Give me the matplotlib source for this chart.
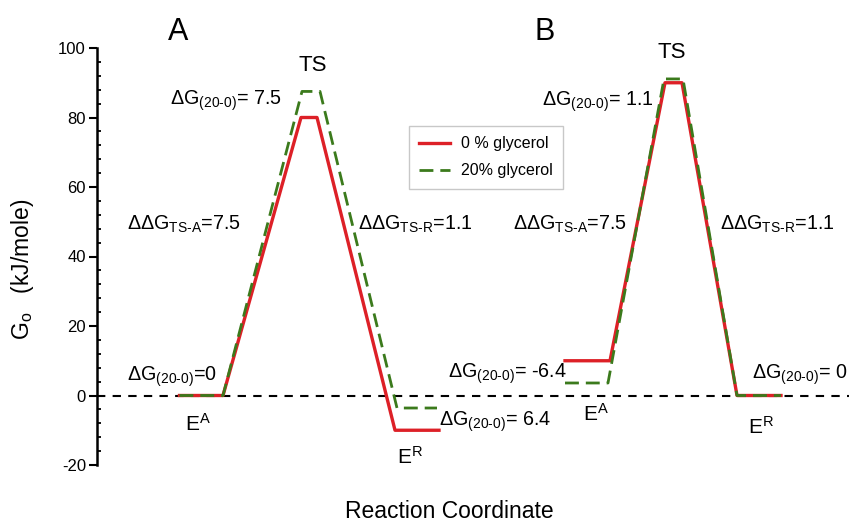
# Free energy profile: 0 % vs 20 % glycerol
import matplotlib
matplotlib.use('Agg')
import matplotlib.pyplot as plt

plt.rcParams['font.family'] = ['Liberation Sans', 'DejaVu Sans']
plt.rcParams['mathtext.fontset'] = 'custom'
plt.rcParams['mathtext.rm'] = 'Liberation Sans'
plt.rcParams['mathtext.it'] = 'Liberation Sans:italic'
plt.rcParams['axes.unicode_minus'] = False

# reaction coordinate (arbitrary units) and G values (kJ/mole)
x_a_red = [1.65, 2.52, 4.08, 4.4, 5.96, 6.84]
g_a_red = [0, 0, 80, 80, -10, -10]
x_a_green = [1.65, 2.52, 4.1, 4.46, 6.0, 6.8]
g_a_green = [0, 0, 87.5, 87.5, -3.6, -3.6]

x_b_red = [9.36, 10.26, 11.36, 11.7, 12.8, 13.68]
g_b_red = [10, 10, 90, 90, 0, 0]
x_b_green = [9.36, 10.22, 11.34, 11.72, 12.8, 13.68]
g_b_green = [3.6, 3.6, 91.1, 91.1, 0, 0]

red = '#dd2027'
green = '#3b7a1c'

fig = plt.figure(figsize=(8.49, 5.26), dpi=100)
ax = fig.add_axes([97 / 849, 61 / 526, 752 / 849, 417 / 526])
ax.set_xlim(0, 15.04)
ax.set_ylim(-20, 100)

ax.axhline(0, color='black', lw=1.5, ls=(0, (4, 3.5)), zorder=1)

ax.plot(x_a_red, g_a_red, color=red, lw=2.4, label='0 % glycerol', zorder=2)
ax.plot(x_a_green, g_a_green, color=green, lw=2, ls=(0, (5, 2.5)),
        label='20% glycerol', zorder=3)
ax.plot(x_b_red, g_b_red, color=red, lw=2.4, zorder=2)
ax.plot(x_b_green, g_b_green, color=green, lw=2, ls=(0, (5, 2.5)), zorder=3)

# axes styling
for s in ['top', 'right', 'bottom']:
    ax.spines[s].set_visible(False)
ax.spines['left'].set_linewidth(1.8)
ax.spines['left'].set_bounds(-20, 100)
ax.set_xticks([])
ax.set_yticks([-20, 0, 20, 40, 60, 80, 100])
ax.set_yticks(range(-20, 101, 4), minor=True)
ax.tick_params(axis='y', which='major', direction='out', length=6, width=1.5,
               labelsize=12, pad=2)
ax.tick_params(axis='y', which='minor', direction='in', length=3, width=1.3)

fs = 14.2
ax.text(1.62, 104.6, 'A', fontsize=22, ha='center', va='center')
ax.text(8.96, 104.6, 'B', fontsize=22, ha='center', va='center')
ax.text(4.32, 95.1, 'TS', fontsize=16, ha='center', va='center')
ax.text(11.5, 98.6, 'TS', fontsize=16, ha='center', va='center')

sub = r'$_{\mathregular{(20\text{-}0)}}$'
ax.text(1.46, 83.6, 'ΔG' + sub + '= 7.5', fontsize=fs, va='baseline')
ax.text(8.9, 83.4, 'ΔG' + sub + '= 1.1', fontsize=fs, va='baseline')
ax.text(0.6, 47.6, r'ΔΔG$_{\mathregular{TS\text{-}A}}$=7.5', fontsize=fs, va='baseline')
ax.text(5.22, 47.6, r'ΔΔG$_{\mathregular{TS\text{-}R}}$=1.1', fontsize=fs, va='baseline')
ax.text(8.32, 47.6, r'ΔΔG$_{\mathregular{TS\text{-}A}}$=7.5', fontsize=fs, va='baseline')
ax.text(12.46, 47.6, r'ΔΔG$_{\mathregular{TS\text{-}R}}$=1.1', fontsize=fs, va='baseline')
ax.text(0.6, 4.3, 'ΔG' + sub + '=0', fontsize=fs, va='baseline')
ax.text(6.84, -8.6, 'ΔG' + sub + '= 6.4', fontsize=fs, va='baseline')
ax.text(7.02, 5.2, 'ΔG' + sub + '= -6.4', fontsize=fs, va='baseline')
ax.text(13.1, 4.9, 'ΔG' + sub + '= 0', fontsize=fs, va='baseline')

ax.text(1.76, -10.1, r'E$^{\mathregular{A}}$', fontsize=15, va='baseline')
ax.text(6.0, -19.6, r'E$^{\mathregular{R}}$', fontsize=15, va='baseline')
ax.text(9.72, -7.2, r'E$^{\mathregular{A}}$', fontsize=15, va='baseline')
ax.text(13.02, -11.0, r'E$^{\mathregular{R}}$', fontsize=15, va='baseline')

fig.text(449 / 849, 0.027, 'Reaction Coordinate', fontsize=16.5,
         ha='center', va='center')
fig.text(22 / 849, 0.487, r'G$_{\mathregular{o}}$   (kJ/mole)', fontsize=16.5,
         ha='center', va='center', rotation=90)

leg = ax.legend(loc='upper left', bbox_to_anchor=(409 / 849, 400 / 526),
                bbox_transform=fig.transFigure, borderaxespad=0,
                fontsize=11.5, fancybox=False, framealpha=1,
                edgecolor='#c8c8c8', handlelength=1.9, borderpad=0.65,
                labelspacing=0.75, handletextpad=0.7)
leg.get_frame().set_linewidth(1.0)

plt.savefig('out.png', dpi=100)
